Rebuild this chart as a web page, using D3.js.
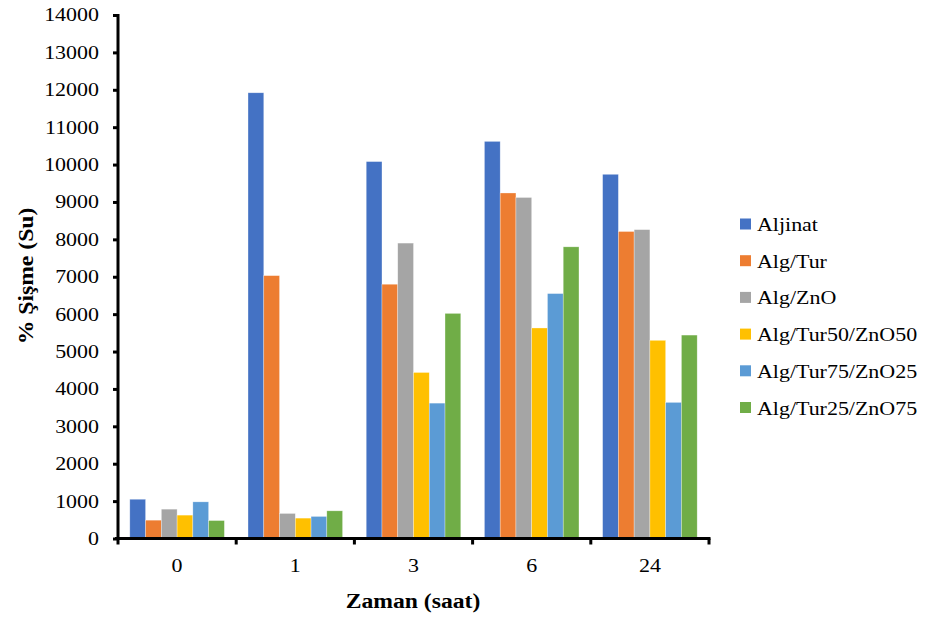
<!DOCTYPE html>
<html><head><meta charset="utf-8">
<script src="https://cdn.jsdelivr.net/npm/d3@7"></script>
<style>body{margin:0;background:#fff}svg{display:block}</style>
</head><body><svg id="c" width="928" height="619"></svg>
<script>
const categories = ["0","1","3","6","24"];
const seriesNames = ["Aljinat","Alg/Tur","Alg/ZnO","Alg/Tur50/ZnO50","Alg/Tur75/ZnO25","Alg/Tur25/ZnO75"];
const aljinat   = [1050, 11920, 10080, 10620, 9740];
const algTur    = [490, 7030, 6800, 9240, 8210];
const algZnO    = [785, 670, 7900, 9120, 8260];
const tur50zno50 = [625, 545, 4440, 5630, 5300];
const tur75zno25 = [980, 590, 3620, 6550, 3640];
const tur25zno75 = [480, 740, 6020, 7800, 5440];
const yTicks = [0,1000,2000,3000,4000,5000,6000,7000,8000,9000,10000,11000,12000,13000,14000];
const colors = ["#4472C4","#ED7D31","#A5A5A5","#FFC000","#5B9BD5","#70AD47"];
const series = [aljinat, algTur, algZnO, tur50zno50, tur75zno25, tur25zno75];

const FONT = "'Liberation Serif'";
const svg = d3.select("#c");
const mLeft = 118, mRight = 709, mTop = 15, mBottom = 538.5;
const x = d3.scaleBand().domain(categories).range([mLeft, mRight]);
const x1 = d3.scaleBand().domain(seriesNames).range([0, x.bandwidth()]).paddingInner(0).paddingOuter(0.75);
const y = d3.scaleLinear().domain([0, 14000]).range([mBottom, mTop]);
const SX = 1.22, SY = 1.1;

// bars
categories.forEach((c, ci) => {
  const g = svg.append("g").attr("transform", `translate(${x(c)},0)`);
  seriesNames.forEach((s, si) => {
    const v = series[si][ci];
    g.append("rect").attr("x", x1(s)).attr("y", y(v)).attr("width", x1.bandwidth())
      .attr("height", y(0) - y(v)).attr("fill", colors[si])
      .attr("stroke", "#fff").attr("stroke-opacity", 0.5).attr("stroke-width", 0.6);
  });
});

// y axis
const ya = svg.append("g").attr("transform", `translate(${mLeft},0)`)
  .call(d3.axisLeft(y).tickValues(yTicks).tickFormat(d3.format("d")).tickSizeOuter(0).tickSize(5).tickPadding(14));
ya.attr("font-family", null).attr("font-size", null);
ya.select(".domain").attr("stroke", "#000").attr("stroke-width", 3).attr("d", `M0,${mTop-1}V${mBottom}`);
ya.selectAll(".tick line").attr("stroke", "#000").attr("stroke-width", 3);
ya.selectAll(".tick text").style("font-family", FONT).style("font-size", "18px").attr("fill","#000")
  .attr("transform", `scale(${SX},${SY})`).attr("x", -19/SX).attr("dy", "0.3em");

// x axis
const xa = svg.append("g").attr("transform", `translate(0,${mBottom})`);
xa.append("line").attr("x1", mLeft - 3).attr("x2", mRight + 1.5).attr("y1", 0).attr("y2", 0)
  .attr("stroke", "#000").attr("stroke-width", 3);
const bounds = categories.map(c => x(c)).concat([x(categories[categories.length-1]) + x.bandwidth()]);
xa.selectAll("line.tk").data(bounds).join("line").attr("class","tk")
  .attr("x1", d => d).attr("x2", d => d).attr("y1", 0).attr("y2", 6)
  .attr("stroke", "#000").attr("stroke-width", 3);
xa.selectAll("text.cat").data(categories).join("text").attr("class","cat")
  .attr("transform", d => `translate(${x(d) + x.bandwidth()/2},33) scale(${SX},${SY})`)
  .attr("text-anchor", "middle").style("font-family", FONT).style("font-size", "18px").text(d => d);

// axis titles
svg.append("text").attr("transform", `translate(413,608) scale(1.1,1)`).attr("text-anchor","middle")
  .style("font-family", FONT).style("font-size", "21.5px").style("font-weight","bold").text("Zaman (saat)");
svg.append("text").attr("transform", `translate(33,276) rotate(-90) scale(1.1,1)`).attr("text-anchor","middle")
  .style("font-family", FONT).style("font-size", "21.5px").style("font-weight","bold").text("% Şişme (Su)");

// legend
const lg = svg.append("g");
seriesNames.forEach((s, i) => {
  const cy = 224 + i * 36.7;
  lg.append("rect").attr("x", 740).attr("y", cy - 5.5).attr("width", 11).attr("height", 11).attr("fill", colors[i]);
  lg.append("text").attr("transform", `translate(757,${cy + 7}) scale(${SX},${SY})`)
    .style("font-family", FONT).style("font-size", "18px").text(s);
});
</script></body></html>
